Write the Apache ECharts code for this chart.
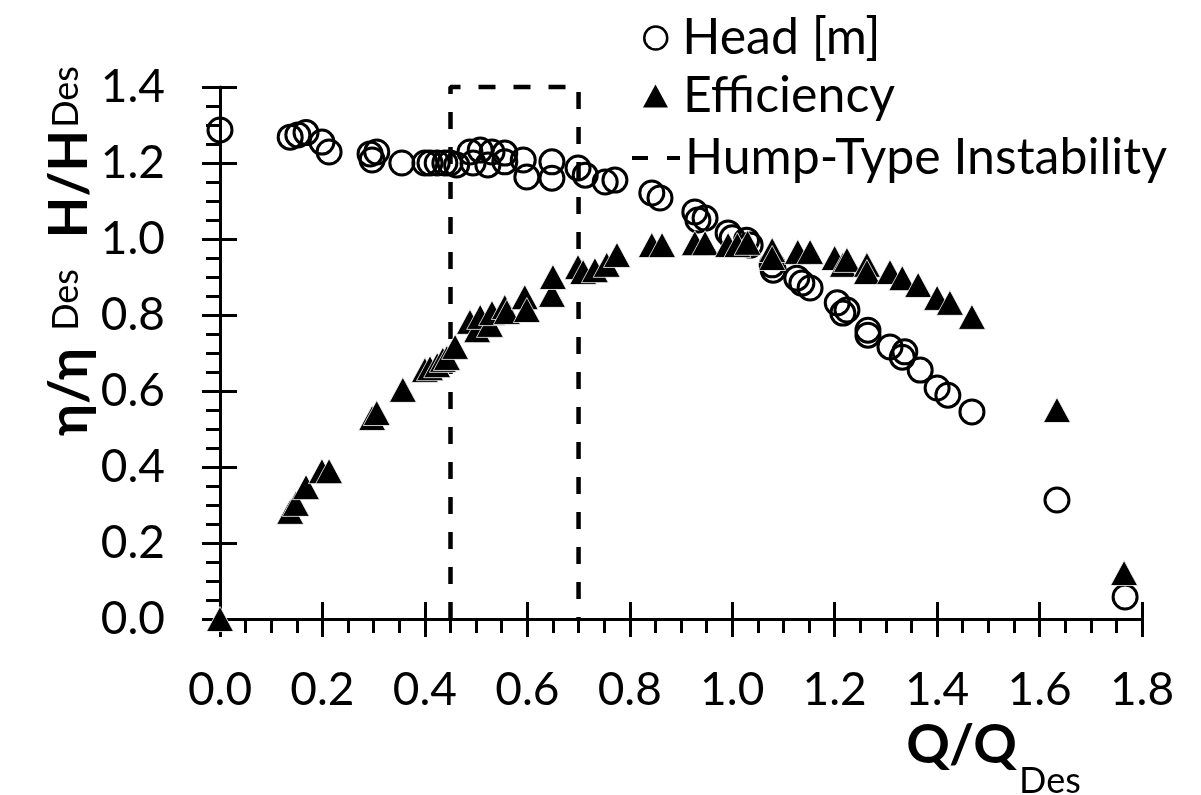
<!DOCTYPE html>
<html><head><meta charset="utf-8">
<script src="https://cdn.jsdelivr.net/npm/echarts@6/dist/echarts.min.js"></script>
<style>html,body{margin:0;padding:0;background:#fff}#c{width:1201px;height:795px}</style>
</head><body><div id="c"></div>
<script>
// ---- data ----
const headQ = [0.000,0.137,0.152,0.168,0.199,0.213,0.293,0.297,0.306,0.355,0.400,0.410,0.424,0.439,0.449,0.462,0.488,0.508,0.531,0.494,0.523,0.556,0.556,0.592,0.599,0.648,0.648,0.699,0.713,0.752,0.771,0.843,0.859,0.927,0.933,0.947,0.992,1.000,1.028,1.035,1.078,1.080,1.126,1.136,1.152,1.205,1.216,1.224,1.265,1.265,1.308,1.332,1.337,1.367,1.400,1.421,1.468,1.634,1.767];
const headH = [1.287,1.268,1.274,1.280,1.255,1.229,1.224,1.208,1.229,1.200,1.200,1.200,1.200,1.200,1.200,1.195,1.229,1.234,1.229,1.200,1.195,1.226,1.203,1.208,1.163,1.203,1.160,1.187,1.168,1.150,1.155,1.121,1.108,1.071,1.050,1.055,1.016,1.003,0.997,0.984,0.932,0.918,0.897,0.884,0.871,0.832,0.805,0.813,0.760,0.747,0.716,0.689,0.703,0.655,0.608,0.589,0.545,0.313,0.058];
const effQ = [0.000,0.137,0.148,0.168,0.199,0.213,0.297,0.306,0.357,0.400,0.410,0.424,0.435,0.443,0.459,0.488,0.502,0.508,0.527,0.531,0.556,0.560,0.595,0.599,0.648,0.650,0.699,0.709,0.732,0.755,0.775,0.843,0.863,0.927,0.947,0.992,1.010,1.030,1.078,1.078,1.128,1.152,1.200,1.216,1.224,1.263,1.263,1.308,1.332,1.363,1.400,1.425,1.468,1.634,1.765];
const effE = [0.000,0.282,0.303,0.347,0.389,0.389,0.529,0.542,0.603,0.655,0.660,0.668,0.682,0.687,0.716,0.782,0.760,0.795,0.774,0.805,0.821,0.808,0.847,0.813,0.853,0.900,0.926,0.913,0.918,0.932,0.958,0.984,0.984,0.989,0.989,0.984,0.984,0.990,0.971,0.950,0.966,0.966,0.950,0.932,0.945,0.932,0.913,0.913,0.897,0.879,0.845,0.832,0.795,0.550,0.121];
const humpQ = [0.45,0.45,0.70,0.70];
const humpY = [0.0,1.4,1.4,0.0];
const xTickLabels = ['0.0','0.2','0.4','0.6','0.8','1.0','1.2','1.4','1.6','1.8'];
const yTickLabels = ['0.0','0.2','0.4','0.6','0.8','1.0','1.2','1.4'];
const seriesNames = ['Head [m]','Efficiency','Hump-Type Instability'];

const FONT = 'Lato';
const zip = (a,b) => a.map((v,i)=>[v,b[i]]);
const lbl = (arr) => (v) => arr[Math.round(v/0.2)] ?? '';

const baseAxisLine = {show:true, lineStyle:{color:'#000', width:3}};
function makeAxes(kind){
  const isX = kind==='x';
  const common = {type:'value', min:0, max:isX?1.8:1.4, interval:0.2, splitLine:{show:false}, minorSplitLine:{show:false}};
  return [
    Object.assign({}, common, {
      position: isX?'bottom':'left',
      axisLine: baseAxisLine,
      axisTick:{show:true, inside:false, length:18, lineStyle:{color:'#000', width:3}},
      minorTick:{show:true, splitNumber:4, length:14, lineStyle:{color:'#000', width:3}},
      axisLabel:{show:true, color:'#000', fontFamily:FONT, fontSize:46, margin:isX?48:55,
        formatter: lbl(isX?xTickLabels:yTickLabels), showMinLabel:true, showMaxLabel:true}
    }),
    Object.assign({}, common, {
      position: isX?'bottom':'left',
      axisLine:{show:false},
      axisTick:{show:true, inside:true, length:17, lineStyle:{color:'#000', width:3}},
      minorTick:{show:false},
      axisLabel:{show:false}
    })
  ];
}

const chart = echarts.init(document.getElementById('c'), null, {renderer:'canvas'});
const legendText = {color:'#000', fontFamily:FONT, fontSize:50, lineHeight:54, padding:[0,0,0,10]};
const dashIcon = 'path://M0,0h16v4h-16z M35,0h13v4h-13z';
chart.setOption({
  animation:false,
  backgroundColor:'#fff',
  grid:{left:220, right:59, top:87, bottom:176, containLabel:false, outerBoundsMode:'none'},
  xAxis: makeAxes('x'),
  yAxis: makeAxes('y'),
  legend:[
    {data:[{name:seriesNames[0], icon:'circle'}], left:638, top:6, orient:'vertical', itemWidth:23, itemHeight:23,
      selectedMode:false, textStyle:legendText,
      itemStyle:{color:'rgba(0,0,0,0)', borderColor:'#000', borderWidth:2.5, opacity:1}},
    {data:[{name:seriesNames[1], icon:'triangle'}], left:638, top:64, orient:'vertical', itemWidth:25, itemHeight:23,
      selectedMode:false, textStyle:legendText,
      itemStyle:{color:'#000', borderWidth:0, opacity:1}},
    {data:[{name:seriesNames[2], icon:dashIcon}], left:627, top:126, orient:'vertical', itemWidth:48, itemHeight:23,
      selectedMode:false, textStyle:Object.assign({}, legendText, {padding:[0,0,0,0]}),
      itemStyle:{color:'#000', borderWidth:0, opacity:1}, lineStyle:{width:0}}
  ],
  series:[
    {name:seriesNames[0], type:'scatter', clip:false, symbol:'circle', symbolSize:24,
      itemStyle:{color:'rgba(0,0,0,0)', borderColor:'#000', borderWidth:3, opacity:1},
      data: zip(headQ, headH), z:3},
    {name:seriesNames[1], type:'scatter', clip:false, symbol:'triangle', symbolSize:[27,25],
      itemStyle:{color:'#000', borderColor:'#fff', borderWidth:0.8, opacity:1},
      data: zip(effQ, effE), z:4},
    {name:seriesNames[2], type:'line', symbol:'none', showSymbol:false, clip:false,
      lineStyle:{color:'#000', width:4.5, type:[17,18], opacity:1},
      itemStyle:{color:'#000'},
      data: zip(humpQ, humpY), z:2}
  ],
  graphic:[
    {type:'text', x:1017, y:746, style:{text:'Q/Q', font:'bold 54px '+FONT, fill:'#000', align:'right', verticalAlign:'middle'}},
    {type:'text', x:1019, y:781, style:{text:'Des', font:'36px '+FONT, fill:'#000', align:'left', verticalAlign:'middle'}},
    {type:'text', x:70, y:392, rotation:Math.PI/2, style:{text:'η/η', font:'bold 54px '+FONT, fill:'#000', align:'center', verticalAlign:'middle'}},
    {type:'text', x:66, y:300, rotation:Math.PI/2, style:{text:'Des', font:'36px '+FONT, fill:'#000', align:'center', verticalAlign:'middle'}},
    {type:'text', x:70, y:184, rotation:Math.PI/2, style:{text:'H/H', font:'bold 54px '+FONT, fill:'#000', align:'center', verticalAlign:'middle'}},
    {type:'text', x:66, y:97, rotation:Math.PI/2, style:{text:'Des', font:'36px '+FONT, fill:'#000', align:'center', verticalAlign:'middle'}}
  ]
});
</script>
</body></html>
